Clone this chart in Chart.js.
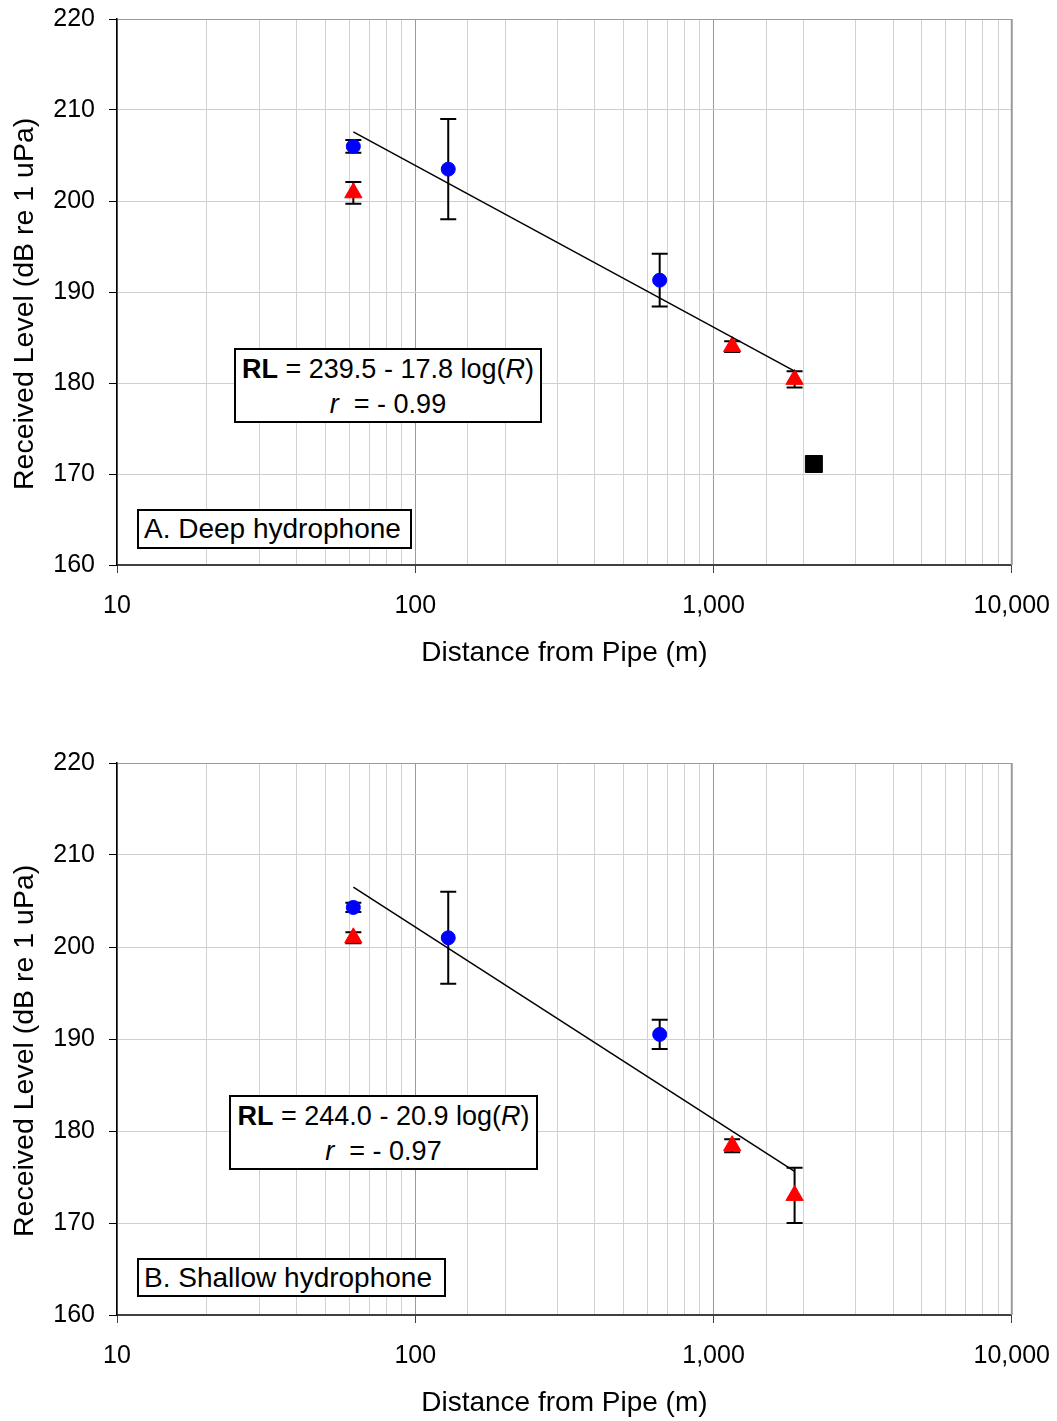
<!DOCTYPE html>
<html>
<head>
<meta charset="utf-8">
<script src="https://cdn.jsdelivr.net/npm/chart.js@4.4.1/dist/chart.umd.min.js"></script>
<style>
  html, body { margin: 0; padding: 0; background: #fff; }
  #page { position: relative; width: 1057px; height: 1421px; overflow: hidden; }
  .panel { position: absolute; left: 0; width: 1068px; }
  .box {
    position: absolute; box-sizing: border-box; border: 2px solid #000; background: #fff;
    font-family: "Liberation Sans", Arial, sans-serif; color: #000; white-space: nowrap;
  }
  .eq { font-size: 27px; line-height: 35px; text-align: center; padding-top: 2px; }
  .lbl { font-size: 28px; line-height: 35px; padding-left: 5px; }
</style>
</head>
<body>
<div id="page">
  <div class="panel" style="top:-10px;height:700px"><canvas id="chartA"></canvas></div>
  <div class="panel" style="top:734px;height:687px"><canvas id="chartB"></canvas></div>

  <div class="box eq" style="left:234px;top:348px;width:308px;height:75px">
    <b>RL</b> = 239.5 - 17.8 log(<i>R</i>)<br><i>r</i>&nbsp; = - 0.99
  </div>
  <div class="box lbl" style="left:137px;top:509px;width:275px;height:40px">A. Deep hydrophone</div>

  <div class="box eq" style="left:229px;top:1095px;width:309px;height:75px">
    <b>RL</b> = 244.0 - 20.9 log(<i>R</i>)<br><i>r</i>&nbsp; = - 0.97
  </div>
  <div class="box lbl" style="left:137px;top:1258px;width:309px;height:39px">B. Shallow hydrophone</div>
</div>

<script>
// axis ticks
const yTicks = [160, 170, 180, 190, 200, 210, 220];
const xMajorTicks = [10, 100, 1000, 10000];

// A. deep hydrophone
const deepCircleX = [62, 129, 660];
const deepCircleY = [206.0, 203.5, 191.3];
const deepCircleErr = [0.7, 5.5, 2.9];
const deepTriX = [62, 1155, 1870];
const deepTriY = [200.9, 184.0, 180.4];
const deepTriErr = [1.2, 0.6, 0.9];
const deepSquareX = [2170];
const deepSquareY = [171.1];
const deepFitX = [62, 1870];
const deepFitY = [207.6, 181.3];

// B. shallow hydrophone
const shallowCircleX = [62, 129, 660];
const shallowCircleY = [204.3, 201.0, 190.5];
const shallowCircleErr = [0.5, 5.0, 1.6];
const shallowTriX = [62, 1155, 1870];
const shallowTriY = [201.0, 178.4, 173.0];
const shallowTriErr = [0.6, 0.7, 3.0];
const shallowFitX = [62, 1870];
const shallowFitY = [206.5, 175.6];

const FONT = '"Liberation Sans", Arial, sans-serif';

function pts(xs, ys) {
  return xs.map((x, i) => ({ x: x, y: ys[i] }));
}

// error bars drawn under the markers
const errorBars = {
  id: "errorBars",
  beforeDatasetsDraw(chart) {
    const { ctx, scales } = chart;
    ctx.save();
    ctx.strokeStyle = "#000";
    ctx.lineWidth = 2;
    chart.data.datasets.forEach((ds, i) => {
      if (!ds.errors) return;
      const meta = chart.getDatasetMeta(i);
      meta.data.forEach((pt, j) => {
        const v = ds.data[j].y;
        const e = ds.errors[j];
        const yTop = scales.y.getPixelForValue(v + e);
        const yBot = scales.y.getPixelForValue(v - e);
        ctx.beginPath();
        ctx.moveTo(pt.x, yTop); ctx.lineTo(pt.x, yBot);
        ctx.moveTo(pt.x - 8, yTop); ctx.lineTo(pt.x + 8, yTop);
        ctx.moveTo(pt.x - 8, yBot); ctx.lineTo(pt.x + 8, yBot);
        ctx.stroke();
      });
    });
    ctx.restore();
  }
};

function makeChart(id, padBottom, datasets) {
  return new Chart(document.getElementById(id), {
    type: "scatter",
    data: { datasets: datasets },
    options: {
      responsive: true,
      maintainAspectRatio: false,
      animation: false,
      layout: { padding: { left: 0, right: 46, top: 0, bottom: padBottom } },
      plugins: { legend: { display: false }, tooltip: { enabled: false } },
      scales: {
        x: {
          type: "logarithmic",
          min: 10,
          max: 10000,
          afterFit(scale) { scale.height = 105; },
          border: { color: "#404040", width: 2 },
          grid: {
            color(c) {
              const v = c.tick && c.tick.value;
              return xMajorTicks.includes(v) ? "#9a9a9a" : "#d2d2d2";
            },
            tickColor(c) {
              const v = c.tick && c.tick.value;
              return xMajorTicks.includes(v) ? "#404040" : "rgba(0,0,0,0)";
            },
            tickLength: 8,
            lineWidth: 1
          },
          ticks: {
            autoSkip: false,
            maxRotation: 0,
            padding: 18,
            color: "#000",
            font: { family: FONT, size: 25 },
            callback(v) {
              return xMajorTicks.includes(v) ? v.toLocaleString("en-US") : "";
            }
          },
          title: {
            display: true,
            text: "Distance from Pipe (m)",
            color: "#000",
            font: { family: FONT, size: 28 },
            padding: { top: 0, bottom: 0 }
          }
        },
        y: {
          min: 160,
          max: 220,
          afterFit(scale) { scale.width = 117; },
          afterBuildTicks(scale) { scale.ticks = yTicks.map(v => ({ value: v })); },
          border: { color: "#000", width: 1.5 },
          grid: {
            color(c) {
              const v = c.tick && c.tick.value;
              return v === 220 ? "#9a9a9a" : "#cfcfcf";
            },
            tickColor: "#000",
            tickLength: 8
          },
          ticks: {
            padding: 14,
            color: "#000",
            font: { family: FONT, size: 25 }
          },
          title: {
            display: true,
            text: "Received Level (dB re 1 uPa)   ", // trailing spaces nudge it down a bit
            color: "#000",
            font: { family: FONT, size: 28.5 },
            padding: { top: 8, bottom: 0 }
          }
        }
      }
    },
    plugins: [errorBars, {
      id: "rightBorder",
      afterDraw(chart) {
        const { ctx, chartArea } = chart;
        ctx.save();
        ctx.strokeStyle = "#9a9a9a";
        ctx.lineWidth = 2;
        ctx.beginPath();
        ctx.moveTo(chartArea.right, chartArea.top);
        ctx.lineTo(chartArea.right, chartArea.bottom);
        ctx.stroke();
        ctx.restore();
      }
    }]
  });
}

function fitSet(xs, ys) {
  return {
    data: pts(xs, ys), showLine: true, borderColor: "#000", borderWidth: 1.5,
    pointRadius: 0, order: 0
  };
}

function markerSet(xs, ys, errs, style, color, r) {
  return {
    data: pts(xs, ys), errors: errs, pointStyle: style, pointRadius: r,
    backgroundColor: color, borderColor: color, borderWidth: 1, order: 1
  };
}

makeChart("chartA", 20, [
  fitSet(deepFitX, deepFitY),
  markerSet(deepCircleX, deepCircleY, deepCircleErr, "circle", "#0000ff", 7),
  markerSet(deepTriX, deepTriY, deepTriErr, "triangle", "#ff0000", 10),
  markerSet(deepSquareX, deepSquareY, null, "rect", "#000", 12)
]);

makeChart("chartB", 1, [
  fitSet(shallowFitX, shallowFitY),
  markerSet(shallowCircleX, shallowCircleY, shallowCircleErr, "circle", "#0000ff", 7),
  markerSet(shallowTriX, shallowTriY, shallowTriErr, "triangle", "#ff0000", 10)
]);
</script>
</body>
</html>
